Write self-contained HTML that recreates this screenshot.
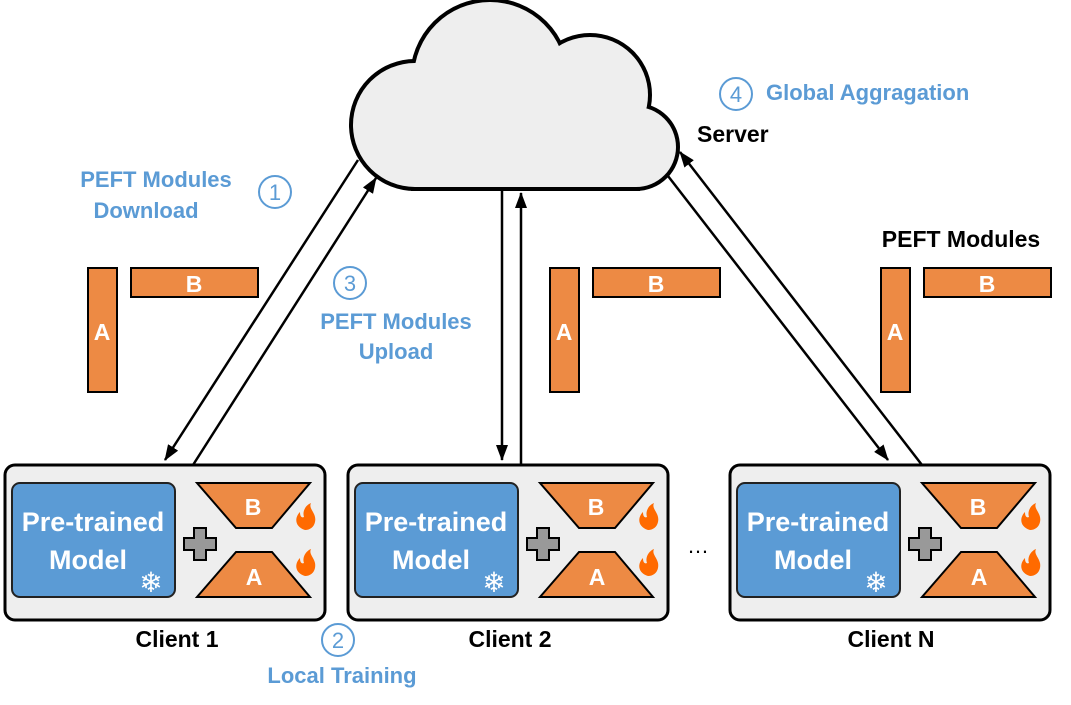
<!DOCTYPE html>
<html><head><meta charset="utf-8"><style>
html,body{margin:0;padding:0;background:#fff;}
svg{display:block;font-family:"Liberation Sans",sans-serif;}
.bl{fill:#5b9bd5;font-weight:bold;font-size:22px;}
.bk{fill:#000;font-weight:bold;font-size:23px;}
.w{fill:#fff;font-weight:bold;}
</style></head><body>
<svg width="1071" height="705" viewBox="0 0 1071 705" xmlns="http://www.w3.org/2000/svg">
<defs>
<marker id="ah" markerWidth="16" markerHeight="12" refX="15" refY="6" orient="auto" markerUnits="userSpaceOnUse" viewBox="0 0 16 12">
<path d="M0,0 L16,6 L0,12 z" fill="#000"/></marker>
<g id="client">
<rect x="5" y="465" width="320" height="155" rx="10" fill="#eeeeee" stroke="#000" stroke-width="3"/>
<rect x="12" y="483" width="163" height="114" rx="8" fill="#5b9bd5" stroke="#222" stroke-width="2"/>
<text x="93" y="531" text-anchor="middle" class="w" font-size="27">Pre-trained</text>
<text x="88" y="569" text-anchor="middle" class="w" font-size="27">Model</text>
<text x="151" y="592" text-anchor="middle" fill="#fff" font-size="28">❄</text>
<path d="M184,538h10v-10h12v10h10v12h-10v10h-12v-10h-10z" fill="#999" stroke="#000" stroke-width="2"/>
<polygon points="197,483 310,483 272,528 236,528" fill="#ed8a44" stroke="#000" stroke-width="2"/>
<polygon points="236,552 272,552 310,597 197,597" fill="#ed8a44" stroke="#000" stroke-width="2"/>
<text x="253" y="515" text-anchor="middle" class="w" font-size="23">B</text>
<text x="254" y="585" text-anchor="middle" class="w" font-size="23">A</text>
<path d="M305,530c-10,-3 -11,-12 -5,-18c0,5 2,6 4,5c-2,-6 2,-12 7,-14c-3,6 6,10 4,19c-1,5 -5,8 -10,8z" fill="#ff6a00"/>
<path d="M305,576c-10,-3 -11,-12 -5,-18c0,5 2,6 4,5c-2,-6 2,-12 7,-14c-3,6 6,10 4,19c-1,5 -5,8 -10,8z" fill="#ff6a00"/>
</g>
<g id="bars">
<rect x="88" y="268" width="29" height="124" fill="#ed8a44" stroke="#000" stroke-width="2"/>
<rect x="131" y="268" width="127" height="29" fill="#ed8a44" stroke="#000" stroke-width="2"/>
<text x="102" y="340" text-anchor="middle" class="w" font-size="23">A</text>
<text x="194" y="292" text-anchor="middle" class="w" font-size="23">B</text>
</g>
</defs>
<!-- cloud -->
<g stroke="#000" stroke-width="8" fill="#000">
<circle cx="415" cy="125" r="62"/><circle cx="490" cy="78" r="76"/>
<circle cx="590" cy="95" r="58"/><circle cx="636" cy="147" r="40"/>
<rect x="415" y="110" width="221" height="77"/>
</g>
<g fill="#eeeeee">
<circle cx="415" cy="125" r="62"/><circle cx="490" cy="78" r="76"/>
<circle cx="590" cy="95" r="58"/><circle cx="636" cy="147" r="40"/>
<rect x="415" y="110" width="221" height="77"/>
</g>
<text x="697" y="142" class="bk">Server</text>
<!-- arrows -->
<g stroke="#000" stroke-width="2.5" fill="none">
<line x1="358" y1="160" x2="165" y2="460" marker-end="url(#ah)"/>
<line x1="193" y1="465" x2="376" y2="178" marker-end="url(#ah)"/>
<line x1="502" y1="190" x2="502" y2="460" marker-end="url(#ah)"/>
<line x1="521" y1="465" x2="521" y2="193" marker-end="url(#ah)"/>
<line x1="668" y1="176" x2="888" y2="460" marker-end="url(#ah)"/>
<line x1="922" y1="465" x2="680" y2="152" marker-end="url(#ah)"/>
</g>
<use href="#bars"/>
<use href="#bars" transform="translate(462,0)"/>
<use href="#bars" transform="translate(793,0)"/>
<use href="#client"/>
<use href="#client" transform="translate(343,0)"/>
<use href="#client" transform="translate(725,0)"/>
<text x="687" y="553" font-size="22" fill="#000">…</text>
<text x="177" y="647" text-anchor="middle" class="bk">Client 1</text>
<text x="510" y="647" text-anchor="middle" class="bk">Client 2</text>
<text x="891" y="647" text-anchor="middle" class="bk">Client N</text>
<text x="961" y="247" text-anchor="middle" class="bk">PEFT Modules</text>
<!-- blue labels -->
<text x="156" y="187" text-anchor="middle" class="bl">PEFT Modules</text>
<text x="146" y="218" text-anchor="middle" class="bl">Download</text>
<text x="396" y="329" text-anchor="middle" class="bl">PEFT Modules</text>
<text x="396" y="359" text-anchor="middle" class="bl">Upload</text>
<text x="342" y="683" text-anchor="middle" class="bl">Local Training</text>
<text x="766" y="100" class="bl">Global Aggragation</text>
<g fill="none" stroke="#5b9bd5" stroke-width="2">
<circle cx="275" cy="192" r="16"/><circle cx="350" cy="283" r="16"/>
<circle cx="338" cy="640" r="16"/><circle cx="736" cy="94" r="16"/>
</g>
<g fill="#5b9bd5" text-anchor="middle" font-size="22">
<text x="275" y="200">1</text><text x="350" y="291">3</text>
<text x="338" y="648">2</text><text x="736" y="102">4</text>
</g>
</svg>
</body></html>
